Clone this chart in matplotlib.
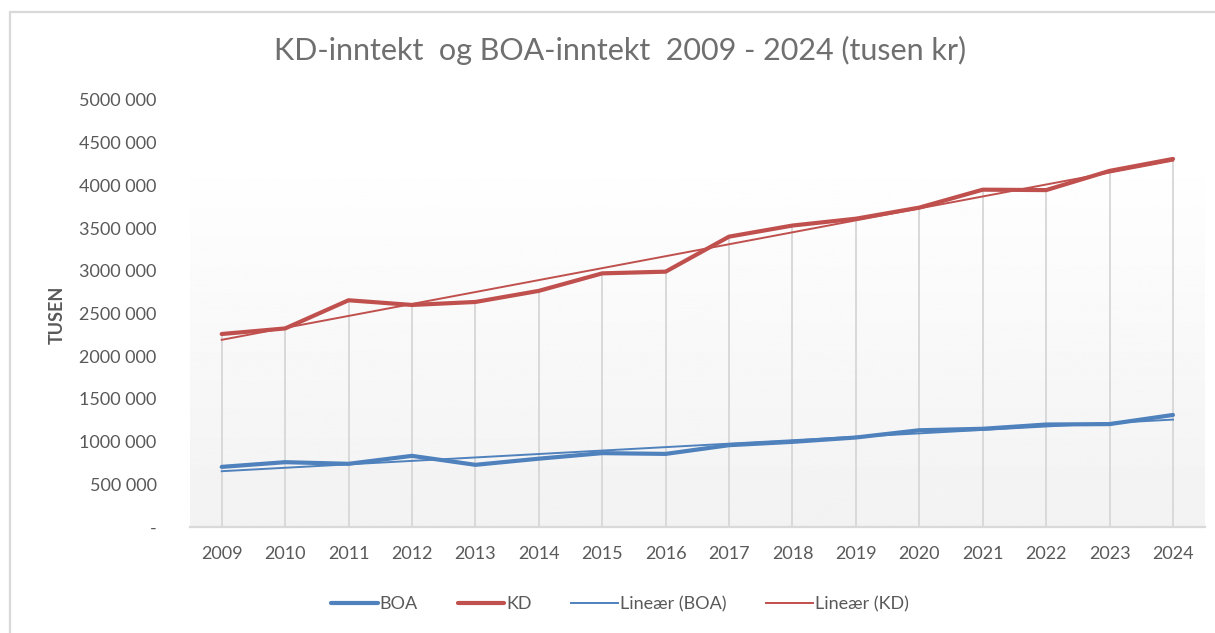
import numpy as np
import matplotlib.pyplot as plt
from matplotlib.patches import Rectangle

plt.rcParams['font.family'] = ['Lato', 'DejaVu Sans']

years = np.arange(2009, 2025)
boa = [704000, 759000, 740000, 833000, 728000, 800000, 865000, 856000,
       958000, 997000, 1048000, 1133000, 1150000, 1200000, 1205000, 1312000]
kd = [2260000, 2325000, 2655000, 2600000, 2635000, 2765000, 2970000, 2990000,
      3400000, 3530000, 3610000, 3740000, 3950000, 3945000, 4170000, 4310000]
yticks = [0, 500000, 1000000, 1500000, 2000000, 2500000, 3000000, 3500000,
          4000000, 4500000, 5000000]
ytick_labels = ['-', '500 000', '1000 000', '1500 000', '2000 000', '2500 000',
                '3000 000', '3500 000', '4000 000', '4500 000', '5000 000']

c_boa = '#4F81BD'
c_kd = '#C0504D'
grey = '#595959'
lgrey = '#D9D9D9'

fig = plt.figure(figsize=(12.15, 6.33), dpi=100)
ax = fig.add_axes([190 / 1215, 1 - 527 / 633, 1014.7 / 1215, 427 / 633])

# gradient plot area
grad = np.linspace(0.949, 1.0, 256).reshape(-1, 1)
ax.imshow(grad, cmap='gray', vmin=0, vmax=1, origin='lower', aspect='auto',
          extent=(2008.5, 2024.5, 0, 4420000), zorder=0)

# drop lines
ax.vlines(years, 0, kd, colors=lgrey, lw=1.4, zorder=1)

ax.plot(years, boa, color=c_boa, lw=3.0, solid_capstyle='round', label='BOA', zorder=3)
ax.plot(years, kd, color=c_kd, lw=3.0, solid_capstyle='round', label='KD', zorder=3)

p_boa = np.polyfit(years, boa, 1)
p_kd = np.polyfit(years, kd, 1)
ax.plot(years, np.polyval(p_boa, years), color=c_boa, lw=1.4, label='Lineær (BOA)', zorder=4)
ax.plot(years, np.polyval(p_kd, years), color=c_kd, lw=1.4, label='Lineær (KD)', zorder=4)

ax.set_xlim(2008.5, 2024.5)
ax.set_ylim(0, 5000000)
ax.set_xticks(years)
ax.set_xticklabels([str(y) for y in years])
ax.set_yticks(yticks)
ax.set_yticklabels(ytick_labels)
ax.tick_params(axis='both', length=0, colors=grey, labelsize=13)
ax.tick_params(axis='y', pad=24)
ax.tick_params(axis='x', pad=14)
for s in ['top', 'right', 'left']:
    ax.spines[s].set_visible(False)
ax.spines['bottom'].set_color(lgrey)
ax.spines['bottom'].set_linewidth(1.6)
ax.set_facecolor('none')

fig.text(57 / 1215, 1 - 315 / 633, 'TUSEN', rotation=90, ha='center', va='center',
         color=grey, fontsize=13, fontweight='bold')
fig.text(620 / 1215, 1 - 50 / 633, 'KD-inntekt  og BOA-inntekt  2009 - 2024 (tusen kr)',
         ha='center', va='center', color='#6F6F6F', fontsize=22)

leg = fig.legend(loc='center', bbox_to_anchor=(620 / 1215, 1 - 604 / 633), ncol=4,
                 frameon=False, fontsize=13, handlelength=2.6, handletextpad=0.1,
                 columnspacing=2.2)
for t in leg.get_texts():
    t.set_color(grey)

fig.add_artist(Rectangle((10.5 / 1215, -0.1), 1.2, (633 - 12.5) / 633 + 0.1,
                         transform=fig.transFigure, fill=False, ec=lgrey, lw=1.6))

fig.savefig('out.png', dpi=100, facecolor='white')
